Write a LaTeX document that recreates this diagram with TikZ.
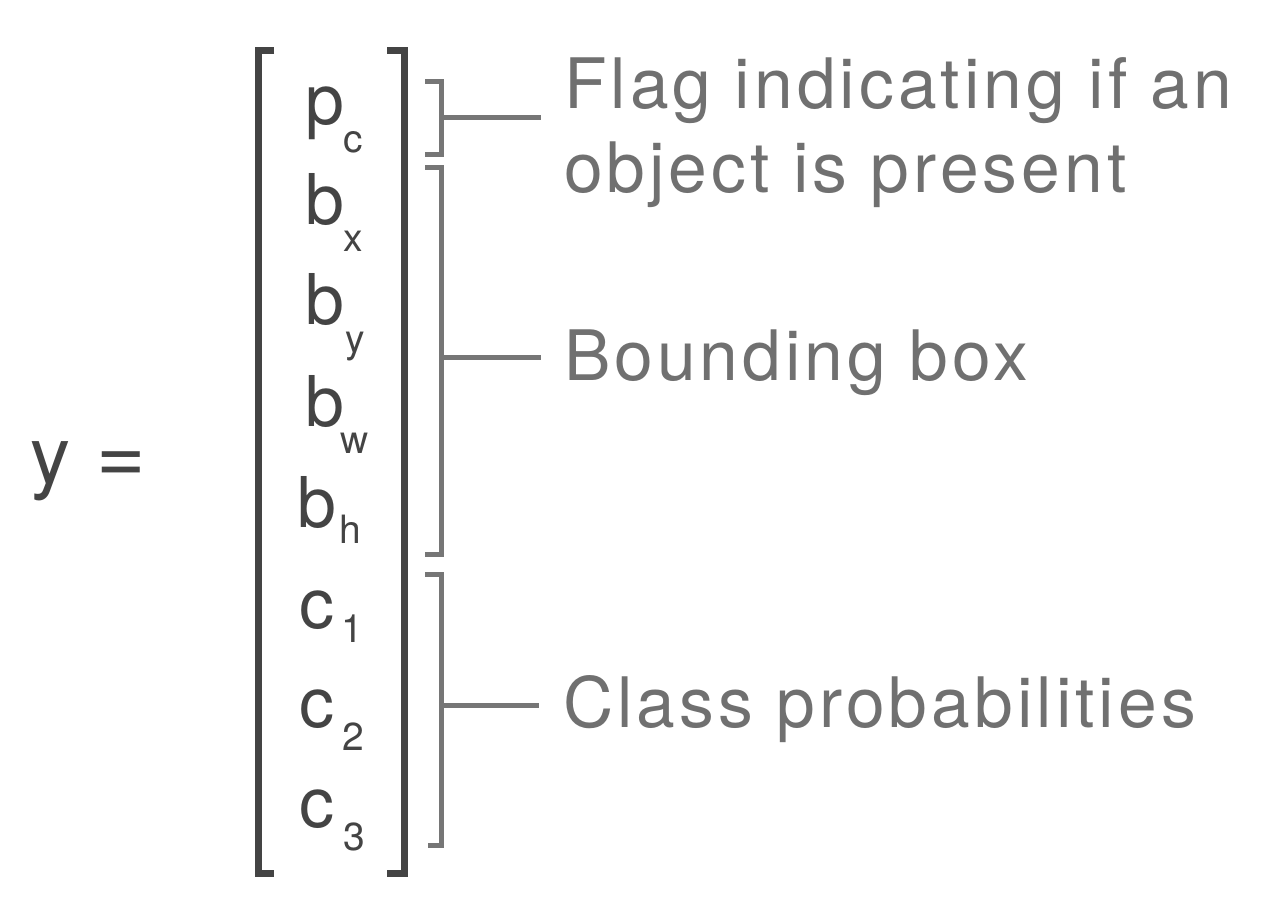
\documentclass[tikz,border=0pt]{standalone}
\usepackage{fontspec}
\setmainfont{TeX Gyre Heros}
\definecolor{darkgr}{HTML}{444444}
\definecolor{midgr}{HTML}{767676}
\definecolor{labgr}{HTML}{707070}
\begin{document}
\begin{tikzpicture}[x=0.5pt,y=-0.5pt,
  bigbr/.style={draw=darkgr,line width=3.5pt},
  smallbr/.style={draw=midgr,line width=2.5pt},
  ent/.style={inner sep=0pt,outer sep=0pt,anchor=base west,text=darkgr,font=\fontsize{35}{42}\selectfont},
  subs/.style={inner sep=0pt,outer sep=0pt,anchor=base west,text=darkgr,font=\fontsize{19.5}{23}\selectfont},
  lbl/.style={inner sep=0pt,outer sep=0pt,anchor=base west,text=labgr,font=\fontsize{34.8}{42}\selectfont\addfontfeature{LetterSpace=5.8}}]
\useasboundingbox (0,0) rectangle (1265,909);
% y =
\node[ent,font=\fontsize{40}{48}\selectfont] (yeq) at (31,484) {y\kern13pt\scalebox{1.06}{=}};
% big brackets
\draw[bigbr] (274,50.5) -- (258,50.5) -- (258,873) -- (274,873);
\draw[bigbr] (387,50.5) -- (404,50.5) -- (404,873) -- (387,873);
% entries
\node[ent] (p) at (305,125) {p};   \node[subs] (pc) at (343.5,153) {c};
\node[ent] (bx) at (305.5,225) {b}; \node[subs] (bxs) at (343,252) {x};
\node[ent] (by) at (305.5,325) {b}; \node[subs] (bys) at (345,353) {y};
\node[ent] (bw) at (305.5,427) {b}; \node[subs] (bws) at (340,453) {w};
\node[ent] (bh) at (297.5,527) {b}; \node[subs] (bhs) at (339.5,543) {h};
\node[ent] (c1) at (299,628) {c};   \node[subs] (c1s) at (341,642) {1};
\node[ent] (c2) at (299,727) {c};   \node[subs] (c2s) at (342,750) {2};
\node[ent] (c3) at (299,827) {c};   \node[subs] (c3s) at (343,850) {3};
% small brackets
\draw[smallbr] (425,81.5) -- (441.5,81.5) -- (441.5,154.5) -- (425,154.5);
\draw[smallbr] (425,167.5) -- (441.5,167.5) -- (441.5,554) -- (425,554);
\draw[smallbr] (425,574) -- (441.5,574) -- (441.5,845.5) -- (428,845.5);
\coordinate (s1) at (441.5,118);   \coordinate (e1) at (541,118);
\coordinate (s2) at (441.5,358);   \coordinate (e2) at (541,358);
\coordinate (s3) at (441.5,705.5); \coordinate (e3) at (539,705.5);
\draw[smallbr] (s1) -- (e1);
\draw[smallbr] (s2) -- (e2);
\draw[smallbr] (s3) -- (e3);
% labels
\node[lbl] (l1a) at (564,109) {Flag indicating if an};
\node[lbl] (l1b) at (564,193) {object is present};
\node[lbl] (l2) at (564,381) {Bounding box};
\node[lbl] (l3) at (563,727) {Class probabilities};
\end{tikzpicture}
\end{document}
